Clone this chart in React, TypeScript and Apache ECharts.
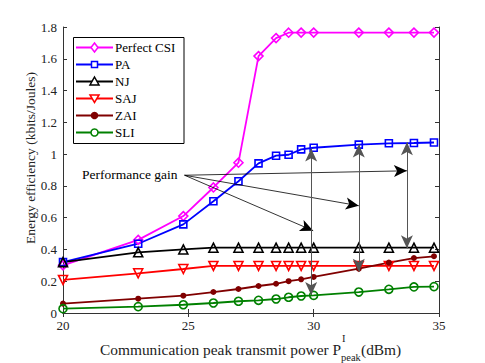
import React, { useEffect, useRef } from "react";
import * as echarts from "echarts";

const xs = [20, 23, 24.8, 26, 27, 27.8, 28.5, 29, 29.5, 30, 31.8, 33, 34, 34.8];
const perfectCSI = [0.3, 0.46, 0.61, 0.79, 0.946, 1.617, 1.73, 1.764, 1.765, 1.765, 1.765, 1.765, 1.765, 1.765];
const pa = [0.32, 0.436, 0.558, 0.703, 0.829, 0.942, 0.99, 0.996, 1.03, 1.04, 1.06, 1.068, 1.07, 1.073];
const nj = [0.32, 0.382, 0.4, 0.411, 0.411, 0.411, 0.411, 0.411, 0.411, 0.411, 0.411, 0.411, 0.411, 0.411];
const saj = [0.208, 0.25, 0.277, 0.296, 0.296, 0.296, 0.296, 0.296, 0.296, 0.296, 0.296, 0.296, 0.296, 0.296];
const zai = [0.059, 0.09, 0.109, 0.132, 0.151, 0.17, 0.184, 0.2, 0.212, 0.227, 0.279, 0.317, 0.346, 0.357];
const sli = [0.027, 0.04, 0.052, 0.063, 0.074, 0.08, 0.088, 0.099, 0.107, 0.111, 0.132, 0.149, 0.164, 0.166];

const gainOrigin = [24.85, 0.867];
const gainTargets = [
  [33.72, 0.895],
  [31.8, 0.675],
  [29.98, 0.518],
];
// [x, top, bottom]
const gainBars = [
  [29.9, 1.036, 0.113],
  [31.8, 1.06, 0.26],
  [33.72, 1.074, 0.407],
];

const FONT = "Liberation Serif";

const seriesDefs = [
  { name: "Perfect CSI", data: perfectCSI, color: "#ff00ff", symbol: "diamond", size: 9, rotate: 0, filled: false },
  { name: "PA", data: pa, color: "#0000ff", symbol: "rect", size: 7, rotate: 0, filled: false },
  { name: "NJ", data: nj, color: "#000000", symbol: "triangle", size: 9, rotate: 0, filled: false },
  { name: "SAJ", data: saj, color: "#ff0000", symbol: "triangle", size: 9, rotate: 180, filled: false },
  { name: "ZAI", data: zai, color: "#800000", symbol: "circle", size: 6, rotate: 0, filled: true },
  { name: "SLI", data: sli, color: "#008000", symbol: "circle", size: 8, rotate: 0, filled: false },
];

function legendMarker(kind: string, rot: number, filled: boolean, color: string, cx: number, cy: number): any {
  const stroke = { stroke: color, lineWidth: 1.5, fill: filled ? color : "#fff" };
  if (kind === "diamond")
    return { type: "polygon", shape: { points: [[cx, cy - 4.5], [cx + 3.5, cy], [cx, cy + 4.5], [cx - 3.5, cy]] }, style: stroke };
  if (kind === "rect") return { type: "rect", shape: { x: cx - 3, y: cy - 3, width: 6, height: 6 }, style: stroke };
  if (kind === "triangle") {
    const pts = rot
      ? [[cx - 4.5, cy - 3.5], [cx + 4.5, cy - 3.5], [cx, cy + 4]]
      : [[cx, cy - 4.5], [cx + 4.5, cy + 3.5], [cx - 4.5, cy + 3.5]];
    return { type: "polygon", shape: { points: pts }, style: stroke };
  }
  return { type: "circle", shape: { cx, cy, r: filled ? 3 : 3.5 }, style: stroke };
}

export default function App() {
  const ref = useRef<HTMLDivElement>(null);
  useEffect(() => {
    if (!ref.current) return;
    const chart = echarts.init(ref.current, null, { renderer: "svg" });
    const axisLine = { show: true, lineStyle: { color: "#333", width: 1 } };
    const axisTick = { show: true, inside: true, length: 4, lineStyle: { color: "#333" } };
    const series: any[] = seriesDefs.map((s) => ({
      type: "line",
      name: s.name,
      data: xs.map((x, i) => [x, s.data[i]]),
      symbol: s.symbol,
      symbolSize: s.size,
      symbolRotate: s.rotate,
      showAllSymbol: true,
      lineStyle: { color: s.color, width: 1.8 },
      itemStyle: s.filled
        ? { color: s.color }
        : { color: "rgba(255,255,255,0)", borderColor: s.color, borderWidth: 1.6 },
      emphasis: { disabled: true },
      z: 2,
    }));
    series.push({
      type: "line",
      name: "annot",
      data: [],
      silent: true,
      markLine: {
        silent: true,
        animation: false,
        symbol: ["none", "arrow"],
        symbolSize: [9, 13],
        label: { show: false },
        lineStyle: { color: "#000", width: 0.8, type: "solid" },
        emphasis: { disabled: true },
        data: gainTargets.map((t) => [{ coord: gainOrigin }, { coord: t }]),
      },
      z: 5,
    });
    series.push({
      type: "line",
      name: "bars",
      data: [],
      silent: true,
      markLine: {
        silent: true,
        animation: false,
        symbol: ["arrow", "arrow"],
        symbolSize: [9, 13],
        label: { show: false },
        lineStyle: { color: "#555", width: 1, type: "solid" },
        emphasis: { disabled: true },
        data: gainBars.map((b) => [{ coord: [b[0], b[1]] }, { coord: [b[0], b[2]] }]),
      },
      z: 5,
    });

    const legendItems: any[] = [];
    seriesDefs.forEach((s, i) => {
      const cy = 47.5 + 17 * i;
      legendItems.push({ type: "line", shape: { x1: 76, y1: cy, x2: 113, y2: cy }, style: { stroke: s.color, lineWidth: 1.8 } });
      legendItems.push(legendMarker(s.symbol, s.rotate, s.filled, s.color, 94.5, cy));
      legendItems.push({
        type: "text",
        x: 115,
        y: cy,
        style: { text: s.name, font: `13px ${FONT}`, fill: "#000", align: "left", verticalAlign: "middle" },
      });
    });

    chart.setOption({
      animation: false,
      backgroundColor: "#fff",
      textStyle: { fontFamily: FONT },
      grid: { left: 63, right: 46, top: 27, bottom: 50, containLabel: false },
      xAxis: [
        {
          type: "value",
          min: 20,
          max: 35,
          interval: 5,
          axisLine,
          axisTick,
          splitLine: { show: false },
          axisLabel: { fontFamily: FONT, fontSize: 13, color: "#222", margin: 6 },
        },
        {
          type: "value",
          position: "top",
          min: 20,
          max: 35,
          interval: 5,
          axisLine,
          axisTick,
          splitLine: { show: false },
          axisLabel: { show: false },
        },
      ],
      yAxis: [
        {
          type: "value",
          min: 0,
          max: 1.8,
          interval: 0.2,
          axisLine,
          axisTick,
          splitLine: { show: false },
          axisLabel: {
            fontFamily: FONT,
            fontSize: 13,
            color: "#222",
            margin: 6,
            formatter: (v: number) => String(Math.round(v * 10) / 10),
          },
        },
        {
          type: "value",
          position: "right",
          min: 0,
          max: 1.8,
          interval: 0.2,
          axisLine,
          axisTick,
          splitLine: { show: false },
          axisLabel: { show: false },
        },
      ],
      graphic: [
        {
          type: "group",
          silent: true,
          z: 20,
          children: [
            {
              type: "rect",
              shape: { x: 73.5, y: 37.5, width: 110.5, height: 106 },
              style: { fill: "#fff", stroke: "#000", lineWidth: 1 },
            },
            ...legendItems,
          ],
        },
        {
          type: "text",
          left: 82,
          top: 167,
          silent: true,
          style: { text: "Performance gain", font: `13.5px ${FONT}`, fill: "#000" },
          z: 10,
        },
        {
          type: "text",
          x: 30,
          y: 158,
          rotation: Math.PI / 2,
          silent: true,
          style: {
            text: "Energy efficiency (kbits/Joules)",
            font: `13.5px ${FONT}`,
            fill: "#222",
            align: "center",
            verticalAlign: "middle",
          },
        },
        {
          type: "text",
          x: 100,
          y: 349,
          silent: true,
          style: {
            text: "Communication peak transmit power P",
            font: `15.4px ${FONT}`,
            fill: "#222",
            align: "left",
            verticalAlign: "middle",
          },
        },
        {
          type: "text",
          x: 342,
          y: 338,
          silent: true,
          style: { text: "I", font: `10.5px ${FONT}`, fill: "#222", align: "left", verticalAlign: "middle" },
        },
        {
          type: "text",
          x: 341,
          y: 357,
          silent: true,
          style: { text: "peak", font: `10.5px ${FONT}`, fill: "#222", align: "left", verticalAlign: "middle" },
        },
        {
          type: "text",
          x: 361,
          y: 349,
          silent: true,
          style: { text: "(dBm)", font: `15.4px ${FONT}`, fill: "#222", align: "left", verticalAlign: "middle" },
        },
      ],
      series,
    });
    return () => chart.dispose();
  }, []);
  return (
    <div
      ref={ref}
      style={{ position: "absolute", left: 0, top: 0, width: 485, height: 363 }}
    />
  );
}
